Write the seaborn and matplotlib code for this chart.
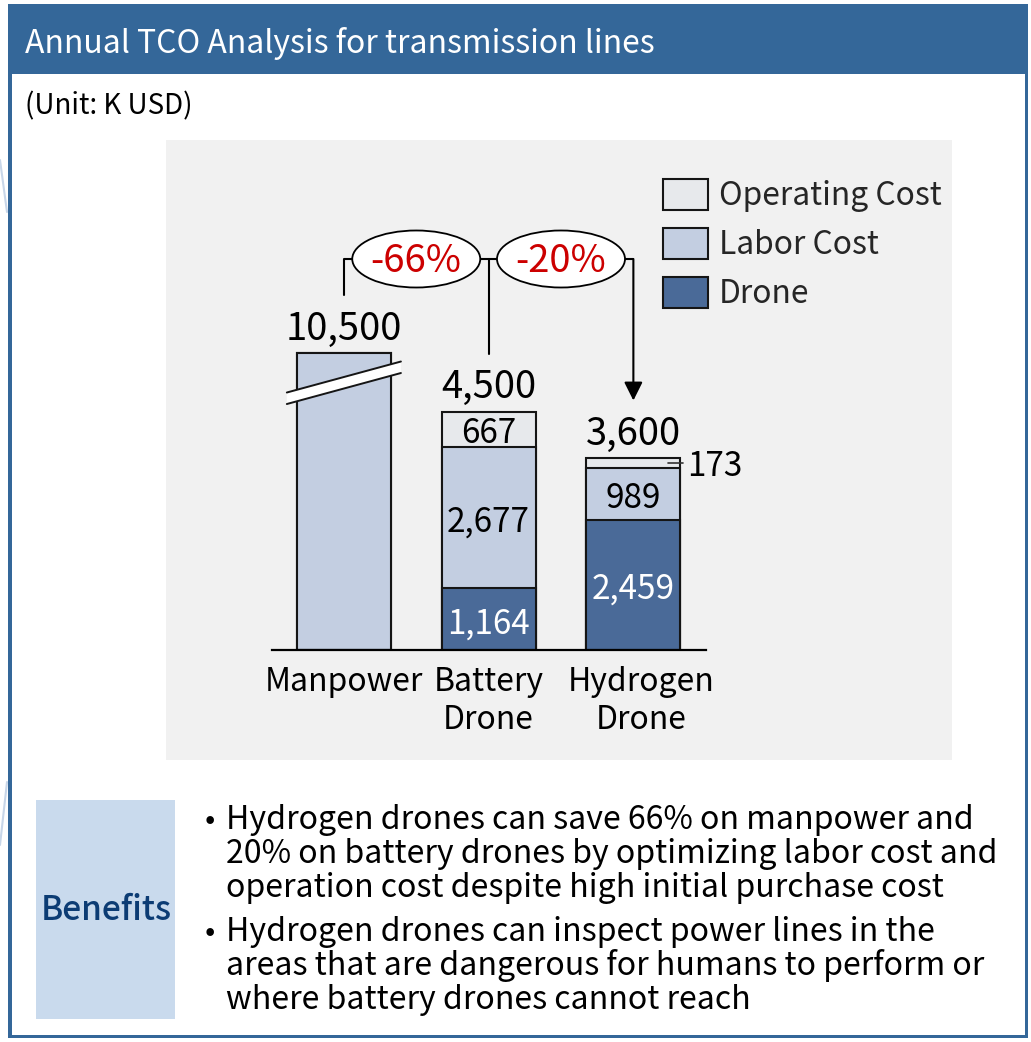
import numpy as np
import matplotlib
matplotlib.use("Agg")
import matplotlib.pyplot as plt
import matplotlib.transforms as mtransforms
from matplotlib.patches import Rectangle, Ellipse, Polygon
import seaborn as sns

# ---- data (K USD) ----
categories = ["Manpower", "Battery\nDrone", "Hydrogen\nDrone"]
drone_cost = [0, 1164, 2459]
labor_cost = [10500, 2677, 989]
operating_cost = [0, 667, 173]
totals = [10500, 4500, 3600]
savings = ["-66%", "-20%"]
series_names = ["Operating Cost", "Labor Cost", "Drone"]

benefit_lines_1 = ["Hydrogen drones can save 66% on manpower and",
                   "20% on battery drones by optimizing labor cost and",
                   "operation cost despite high initial purchase cost"]
benefit_lines_2 = ["Hydrogen drones can inspect power lines in the",
                   "areas that are dangerous for humans to perform or",
                   "where battery drones cannot reach"]

# ---- style ----
C_OP = "#e7e9ec"
C_LABOR = "#c3cee1"
C_DRONE = "#4a6a98"
C_HEADER = "#346799"
C_PANEL = "#f1f1f1"
C_BOX = "#c9daed"
C_RED = "#cc0000"
EDGE = "#151515"

sns.set_theme(style="white")
plt.rcParams["font.family"] = ["Noto Sans CJK JP", "DejaVu Sans"]

W, H = 1031, 1042
fig = plt.figure(figsize=(W / 100, H / 100), dpi=100)
fig.patch.set_facecolor("white")

# background layer in pixel coordinates
bg = fig.add_axes([0, 0, 1, 1], zorder=0)
bg.set_xlim(0, W)
bg.set_ylim(H, 0)
bg.axis("off")

TY = 3  # vertical centring correction for this font, pixels

# header, frame, chart panel
bg.add_patch(Rectangle((8, 4), 1020, 70, facecolor=C_HEADER, edgecolor="none"))
bg.add_patch(Rectangle((8, 74), 4, 964, facecolor=C_HEADER, edgecolor="none"))
bg.add_patch(Rectangle((1025, 74), 3, 964, facecolor=C_HEADER, edgecolor="none"))
bg.add_patch(Rectangle((8, 1035), 1020, 3, facecolor=C_HEADER, edgecolor="none"))
bg.plot([0, 7], [160, 212], color="#c8d6e8", lw=1.5)
bg.plot([7, 0], [782, 845], color="#c8d6e8", lw=1.5)
bg.add_patch(Rectangle((166, 140), 786, 620, facecolor=C_PANEL, edgecolor="none"))

bg.text(25, 40 + TY, "Annual TCO Analysis for transmission lines", color="white",
        fontsize=23, va="center", ha="left")
bg.text(25, 103 + TY, "(Unit: K USD)", color="black", fontsize=20, va="center", ha="left")

# benefits box
bg.add_patch(Rectangle((36, 800), 139, 219, facecolor=C_BOX, edgecolor="none"))
bg.text(106, 908 + TY, "Benefits", color="#0c3c74", fontsize=24, va="center", ha="center",
        fontweight="medium")
for start, lines in ((817, benefit_lines_1), (929, benefit_lines_2)):
    bg.text(210, start + TY, "\u2022", fontsize=22, va="center", ha="center", color="black")
    for k, line in enumerate(lines):
        bg.text(226, start + 34 * k + TY, line, fontsize=23.1, va="center", ha="left",
                color="black")

# ---- bar chart ----
PX = 4500 / 238.0          # data units per pixel
BASE_Y = 650               # baseline, pixels from top
ax = fig.add_axes([271.5 / W, (H - BASE_Y) / H, 434.25 / W, 510 / H], zorder=2)
ax.patch.set_alpha(0)

CAP = 297 * PX             # drawn height of the broken Manpower bar
DY = -TY * PX              # same text correction in data units

drone = np.array(drone_cost, dtype=float)
labor = np.array(labor_cost, dtype=float)
oper = np.array(operating_cost, dtype=float)
cum1 = drone
cum2 = drone + labor
cum3 = cum2 + oper
disp = lambda v: np.minimum(v, CAP)

bar_kw = dict(width=0.65, saturation=1, edgecolor=EDGE, linewidth=1.5, ax=ax)
sns.barplot(x=categories, y=disp(cum3), color=C_OP, label=series_names[0], **bar_kw)
sns.barplot(x=categories, y=disp(cum2), color=C_LABOR, label=series_names[1], **bar_kw)
sns.barplot(x=categories, y=disp(cum1), color=C_DRONE, label=series_names[2], **bar_kw)

ax.set_xlim(-0.5, 2.5)
ax.set_ylim(0, 510 * PX)
ax.set_xlabel("")
ax.set_ylabel("")
ax.set_yticks([])
for s in ("left", "right", "top"):
    ax.spines[s].set_visible(False)
ax.spines["bottom"].set_color("black")
ax.spines["bottom"].set_linewidth(1.6)
ax.set_xticks(range(len(categories)))
ax.set_xticklabels(categories, fontsize=23, linespacing=1.24)
ax.tick_params(axis="x", length=0, pad=11.5, colors="black")
# the last category label sits a little to the right
lbl = ax.get_xticklabels()[2]
lbl.set_transform(lbl.get_transform() +
                  mtransforms.ScaledTranslation(8 / 100, 0, fig.dpi_scale_trans))

# axis break on the clipped bar
bx0, bx1 = -0.394, 0.394
y_lo_l, y_lo_r = 4651, 5237
band = 11.5 * PX
ax.add_patch(Polygon([(bx0, y_lo_l), (bx1, y_lo_r), (bx1, y_lo_r + band), (bx0, y_lo_l + band)],
                     closed=True, facecolor="white", edgecolor="none", zorder=5))
ax.plot([bx0, bx1], [y_lo_l, y_lo_r], color=EDGE, lw=1.4, zorder=6)
ax.plot([bx0, bx1], [y_lo_l + band, y_lo_r + band], color=EDGE, lw=1.4, zorder=6)

# segment value labels
segments = [(np.zeros(3), drone, "white"), (cum1, labor, "black"), (cum2, oper, "black")]
for i in range(len(categories)):
    if cum3[i] > CAP:
        continue
    for bottom, vals, col in segments:
        v = vals[i]
        if v <= 0:
            continue
        mid = bottom[i] + v / 2
        if v / PX >= 25:
            ax.text(i, mid + DY - 1.5 * PX, f"{int(v):,}", ha="center", va="center",
                    fontsize=24, color=col, zorder=7)
        else:
            ax.plot([i + 0.238, i + 0.345], [mid, mid], color="#333333", lw=1.2,
                    zorder=7, clip_on=False)
            ax.text(i + 0.37, mid + DY, f"{int(v):,}", ha="left", va="center", fontsize=24,
                    color="black", zorder=7)

# totals above bars
tops = disp(cum3)
for i, t in enumerate(totals):
    ax.text(i, tops[i] + 27 * PX + DY, f"{t:,}", ha="center", va="center", fontsize=27.5,
            color="black", zorder=7)

# comparison brackets
yb = (BASE_Y - 259) * PX
ends = tops + 58 * PX
ax.plot([0, 0, 2], [ends[0], yb, yb], color="black", lw=1.5, zorder=3, clip_on=False)
ax.plot([1, 1], [ends[1], yb], color="black", lw=1.5, zorder=3, clip_on=False)
ax.annotate("", xy=(2, ends[2]), xytext=(2, yb),
            arrowprops=dict(arrowstyle="-|>", color="black", lw=1.5, mutation_scale=28,
                            shrinkA=0, shrinkB=0), zorder=3)
for k, lab in enumerate(savings):
    ax.add_patch(Ellipse((k + 0.5, yb), width=128 / 144.75, height=57 * PX,
                         facecolor="white", edgecolor="black", lw=1.3, zorder=4,
                         clip_on=False))
    ax.text(k + 0.5, yb + DY, lab, ha="center", va="center", fontsize=27.5, color=C_RED,
            zorder=5)

# legend
ax.legend(loc="upper left", bbox_to_anchor=(663 / W, 1 - 179 / H),
          bbox_transform=fig.transFigure, frameon=False, fontsize=22.9,
          handlelength=1.4, handleheight=1.1, handletextpad=0.35,
          labelspacing=0.5, borderpad=0, borderaxespad=0)
for p in ax.get_legend().get_patches():
    p.set_edgecolor(EDGE)
    p.set_linewidth(1.5)

fig.savefig("out.png", dpi=100, facecolor="white")
